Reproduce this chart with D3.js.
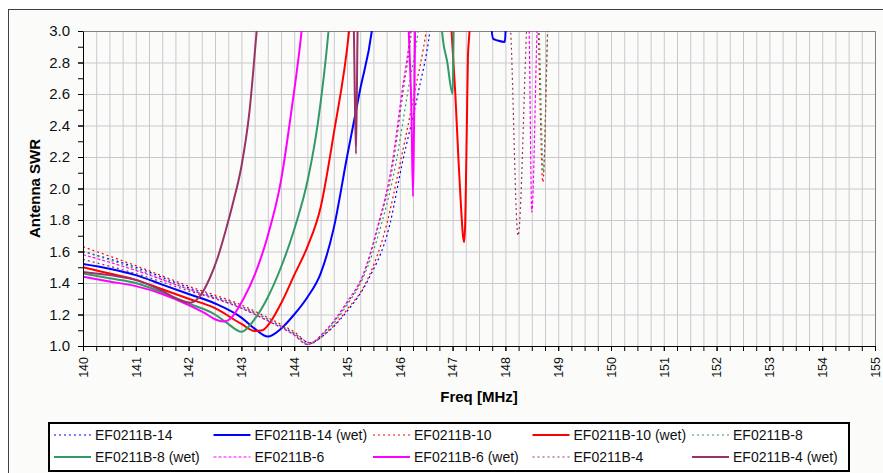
<!DOCTYPE html>
<html>
<head>
<meta charset="utf-8">
<script src="https://cdn.jsdelivr.net/npm/d3@7"></script>
<style>
  body { margin: 0; background: #fff; }
  svg { display: block; font-family: "Liberation Sans", Arial, sans-serif; }
</style>
</head>
<body>
<svg id="chart" width="883" height="473"></svg>
<script>
// axis ticks
const xMajor = d3.range(140, 156, 1);
const xMinor = d3.range(140, 155.01, 0.25);
const yMajor = [1.0, 1.2, 1.4, 1.6, 1.8, 2.0, 2.2, 2.4, 2.6, 2.8, 3.0];
const yMinor = d3.range(1.0, 3.01, 0.1);

// series values [freq MHz, SWR]; points above 3.0 are off scale (clipped)
const ef14 = [[140,1.60],[141,1.50],[142,1.37],[143,1.25],[143.5,1.17],[144,1.08],[144.3,1.02],[144.6,1.08],[145,1.22],[145.4,1.42],[145.81,1.77],[146.04,2.15],[146.35,2.61],[146.57,3.0],[146.7,3.4]];
const ef14wet = [[140,1.52],[140.5,1.49],[141,1.45],[141.5,1.39],[142,1.33],[142.5,1.27],[143,1.18],[143.25,1.11],[143.5,1.06],[143.75,1.11],[144,1.20],[144.25,1.31],[144.5,1.46],[144.75,1.75],[145,2.2],[145.25,2.63],[145.47,3.0],[145.6,3.4],
  [147.7,3.4],[147.73,3.05],[147.77,2.95],[147.85,2.94],[147.99,2.93],[148.01,3.05],[148.1,3.4]];
const ef10 = [[140,1.63],[141,1.51],[142,1.38],[143,1.26],[143.5,1.18],[144,1.09],[144.3,1.02],[144.6,1.08],[145,1.23],[145.4,1.43],[145.75,1.77],[146.0,2.15],[146.28,2.61],[146.5,3.0],[146.65,3.4],
  [148.55,3.4],[148.62,3.0],[148.71,2.04],[148.8,3.0],[148.85,3.4]];
const ef10wet = [[140,1.50],[140.5,1.46],[141,1.42],[141.5,1.36],[142,1.30],[142.5,1.24],[143,1.14],[143.25,1.095],[143.4,1.10],[143.5,1.13],[143.75,1.27],[144,1.45],[144.25,1.63],[144.5,1.88],[144.75,2.35],[145.04,3.0],[145.15,3.4],
  [146.95,3.2],[146.98,3.0],[147.05,2.61],[147.11,2.19],[147.15,1.94],[147.2,1.69],[147.22,1.66],[147.24,1.8],[147.25,1.98],[147.27,2.4],[147.29,2.83],[147.32,3.0],[147.35,3.3]];
const ef8 = [[140,1.60],[141,1.49],[142,1.36],[143,1.25],[143.5,1.17],[144,1.08],[144.28,1.01],[144.6,1.09],[145,1.26],[145.3,1.43],[145.65,1.77],[145.92,2.15],[146.15,2.61],[146.35,3.0],[146.5,3.4],
  [148.57,3.4],[148.64,3.0],[148.72,2.1],[148.8,3.0],[148.85,3.4]];
const ef8wet = [[140,1.46],[140.5,1.43],[141,1.40],[141.5,1.34],[142,1.27],[142.5,1.20],[142.75,1.14],[143,1.09],[143.25,1.17],[143.5,1.31],[143.75,1.50],[144,1.74],[144.26,2.06],[144.45,2.42],[144.65,3.0],[144.75,3.4],
  [146.75,3.4],[146.8,3.0],[146.9,2.8],[147.0,2.6],[147.02,3.0],[147.04,3.4]];
const ef6 = [[140,1.58],[141,1.48],[142,1.36],[143,1.24],[143.5,1.16],[144,1.07],[144.25,1.01],[144.6,1.10],[145,1.28],[145.3,1.45],[145.59,1.77],[145.85,2.15],[146.04,2.61],[146.2,3.0],[146.3,3.4],
  [148.4,3.4],[148.45,3.0],[148.5,1.85],[148.6,3.0],[148.65,3.4]];
const ef6wet = [[140,1.44],[140.5,1.41],[141,1.38],[141.5,1.33],[142,1.26],[142.3,1.21],[142.5,1.17],[142.65,1.155],[142.78,1.17],[143.04,1.30],[143.25,1.45],[143.5,1.70],[143.75,2.05],[143.95,2.5],[144.14,3.0],[144.25,3.4],
  [146.13,3.4],[146.17,3.0],[146.22,2.5],[146.25,1.95],[146.27,2.4],[146.29,3.0],[146.31,3.4]];
const ef4 = [[140,1.55],[141,1.46],[142,1.35],[143,1.24],[143.5,1.16],[144,1.07],[144.25,1.01],[144.6,1.10],[145,1.27],[145.3,1.44],[145.6,1.77],[145.87,2.15],[146.06,2.61],[146.22,3.0],[146.32,3.4],
  [148.02,3.4],[148.1,3.0],[148.24,1.70],[148.4,3.0],[148.45,3.4]];
const ef4wet = [[140,1.47],[140.5,1.45],[141,1.42],[141.5,1.35],[141.84,1.29],[142.03,1.275],[142.2,1.31],[142.4,1.43],[142.55,1.56],[142.7,1.73],[142.85,1.92],[143.0,2.14],[143.15,2.48],[143.29,3.0],[143.4,3.4],
  [145.1,3.4],[145.13,3.0],[145.17,2.22],[145.2,3.0],[145.22,3.4]];

const names = ['EF0211B-14', 'EF0211B-14 (wet)', 'EF0211B-10', 'EF0211B-10 (wet)', 'EF0211B-8',
  'EF0211B-8 (wet)', 'EF0211B-6', 'EF0211B-6 (wet)', 'EF0211B-4', 'EF0211B-4 (wet)'];
const values = [ef14, ef14wet, ef10, ef10wet, ef8, ef8wet, ef6, ef6wet, ef4, ef4wet];

const colors = ['#0000ff', '#0000ff', '#ff0000', '#ff0000', '#339966', '#339966', '#ff00ff', '#ff00ff', '#993366', '#993366'];
const dashes = ['2,3', null, '2,3', null, '2,3', null, '3,2', null, '2,3', null];

const series = names.map((n, i) => ({ name: n, values: values[i], color: colors[i], dash: dashes[i] }));

const plot = { left: 83, right: 875, top: 31, bottom: 346 };
const width = plot.right - plot.left;
const height = plot.bottom - plot.top;

const svg = d3.select('#chart');

// chart area frame
svg.append('rect')
  .attr('x', 8.5).attr('y', 9.5)
  .attr('width', 900).attr('height', 480)
  .attr('fill', '#fbfcfa')
  .attr('stroke', '#404040');

const g = svg.append('g')
  .attr('transform', `translate(${plot.left}, ${plot.top})`);

const x = d3.scaleLinear().domain([140, 155]).range([0, width]);
const y = d3.scaleLinear().domain([1, 3]).range([height, 0]);

// gridlines
g.append('g')
  .attr('class', 'grid')
  .attr('transform', `translate(0, ${height})`)
  .call(d3.axisBottom(x).tickValues(xMinor).tickSize(-height).tickFormat(''))
  .call(a => a.select('.domain').remove())
  .call(a => a.selectAll('line').attr('stroke', '#cbc8cc'));

g.append('g')
  .attr('class', 'grid')
  .call(d3.axisLeft(y).tickValues(yMajor).tickSize(-width).tickFormat(''))
  .call(a => a.select('.domain').remove())
  .call(a => a.selectAll('line').attr('stroke', '#cbc8cc'));

// plot border (top and right)
g.append('path')
  .attr('d', `M0.5,0.5H${width + 0.5}V${height}`)
  .attr('fill', 'none')
  .attr('stroke', '#808080');

// lines
g.append('clipPath').attr('id', 'clip')
  .append('rect').attr('width', width).attr('height', height + 1);

const line = d3.line()
  .x(d => x(d[0]))
  .y(d => y(d[1]))
  .curve(d3.curveMonotoneX);

g.append('g')
  .attr('clip-path', 'url(#clip)')
  .selectAll('path')
  .data(series)
  .enter()
  .append('path')
  .attr('fill', 'none')
  .attr('stroke', d => d.color)
  .attr('stroke-width', d => d.dash ? 1.2 : 2)
  .attr('stroke-dasharray', d => d.dash)
  .attr('d', d => line(d.values));

// y axis
g.append('g')
  .call(d3.axisLeft(y).tickValues(yMinor).tickSize(5).tickFormat(''))
  .call(a => a.select('.domain').remove());

g.append('g')
  .attr('id', 'y-axis')
  .call(d3.axisLeft(y).tickValues(yMajor).tickSize(5).tickSizeOuter(0).tickFormat(d3.format('.1f')))
  .attr('font-family', null)
  .attr('font-size', null)
  .call(a => a.selectAll('text')
    .attr('x', -13)
    .style('font-size', '15px')
    .attr('fill', '#111'));

// x axis
g.append('g')
  .attr('transform', `translate(0, ${height})`)
  .call(d3.axisBottom(x).tickValues(xMinor).tickSize(5).tickFormat(''))
  .call(a => a.select('.domain').remove());

g.append('g')
  .attr('id', 'x-axis')
  .attr('transform', `translate(0, ${height})`)
  .call(d3.axisBottom(x).tickValues(xMajor).tickSize(5).tickSizeOuter(0).tickFormat(d3.format('d')))
  .attr('font-family', null)
  .attr('font-size', null)
  .call(a => a.selectAll('text')
    .attr('transform', 'rotate(-90)')
    .attr('text-anchor', 'end')
    .attr('x', -11)
    .attr('y', 0)
    .attr('dy', '0.35em')
    .style('font-size', '12.5px')
    .attr('fill', '#111'));

// axis titles
svg.append('text')
  .attr('text-anchor', 'middle')
  .attr('transform', `translate(40, ${(plot.top + plot.bottom) / 2}) rotate(-90)`)
  .style('font-size', '15px')
  .style('font-weight', 'bold')
  .text('Antenna SWR');

svg.append('text')
  .attr('text-anchor', 'middle')
  .attr('x', (plot.left + plot.right) / 2)
  .attr('y', 402)
  .style('font-size', '15px')
  .style('font-weight', 'bold')
  .text('Freq [MHz]');

// legend
const legend = svg.append('g').attr('id', 'legend');

legend.append('rect')
  .attr('x', 49).attr('y', 423)
  .attr('width', 800).attr('height', 48)
  .attr('fill', '#fff')
  .attr('stroke', '#000')
  .attr('stroke-width', 2);

const item = legend.selectAll('g.item')
  .data(series)
  .enter()
  .append('g')
  .attr('class', 'item')
  .attr('transform', (d, i) => `translate(${54 + (i % 5) * 159.5}, ${i < 5 ? 435 : 457})`);

item.append('line')
  .attr('x1', 0).attr('x2', 37)
  .attr('stroke', d => d.color)
  .attr('stroke-width', d => d.dash ? 1.2 : 2)
  .attr('stroke-dasharray', d => d.dash);

item.append('text')
  .attr('x', 41)
  .attr('dy', '0.35em')
  .style('font-size', '14px')
  .attr('fill', '#111')
  .text(d => d.name);
</script>
</body>
</html>
